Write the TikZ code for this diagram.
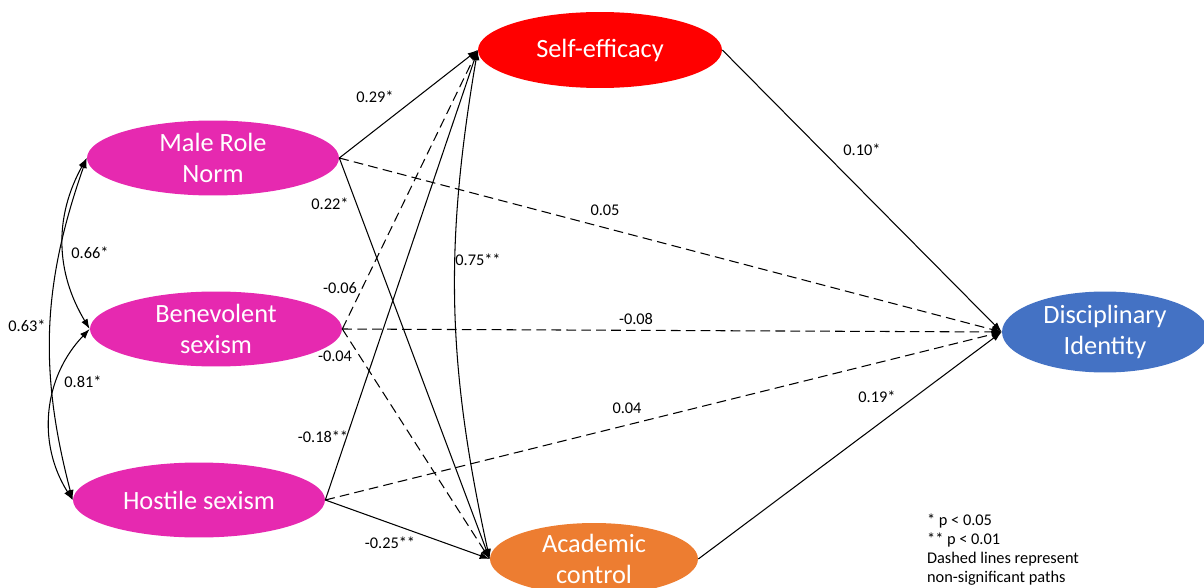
\documentclass[tikz,border=0pt]{standalone}
\usepackage{fontspec}
\setmainfont{Carlito}
\usepackage{tikz}
\usetikzlibrary{arrows.meta, shapes.geometric}
\definecolor{sexism}{HTML}{E629B0}
\definecolor{efficacy}{HTML}{FF0000}
\definecolor{control}{HTML}{ED7D31}
\definecolor{identity}{HTML}{4472C4}

\begin{document}
\begin{tikzpicture}[
    x=0.02cm, y=-0.02cm,
    latent/.style={ellipse, inner sep=0pt, align=center, text=white, font=\fontsize{15}{17.8}\selectfont},
    sigpath/.style={-{Latex[length=2mm, width=1.4mm]}, line width=0.6pt},
    nspath/.style={sigpath, dash pattern=on 5.5pt off 3pt},
    cov/.style={{Latex[length=2mm, width=1.4mm]}-{Latex[length=2mm, width=1.4mm]}, line width=0.6pt},
    coef/.style={font=\fontsize{9.3}{10.8}\selectfont, inner sep=1pt}
]
\useasboundingbox (0,0) rectangle (1204,588);

% latent variables
\node[latent, fill=sexism, minimum width=5.04cm, minimum height=1.5cm] (mrn) at (213,158) {Male Role\\Norm};
\node[latent, fill=sexism, minimum width=5.04cm, minimum height=1.5cm] (bs) at (216,329) {Benevolent\\sexism};
\node[latent, fill=sexism, minimum width=5.04cm, minimum height=1.5cm] (hs) at (199,500) {Hostile sexism};
\node[latent, fill=efficacy, minimum width=4.88cm, minimum height=1.52cm] (se) at (600,50) {Self-efficacy};
\node[latent, fill=control, minimum width=4.16cm, minimum height=1.44cm] (ac) at (594,559) {Academic\\control};
\node[latent, fill=identity, minimum width=4.12cm, minimum height=1.62cm] (di) at (1105,332) {Disciplinary\\Identity};

% direct paths
\draw[sigpath] (mrn.east) -- (se.west);
\draw[nspath] (mrn.east) -- (di.west);
\draw[sigpath] (mrn.east) -- (ac.west);
\draw[nspath] (bs.east) -- (se.west);
\draw[nspath] (bs.east) -- (di.west);
\draw[nspath] (bs.east) -- (ac.west);
\draw[sigpath] (hs.east) -- (se.west);
\draw[nspath] (hs.east) -- (di.west);
\draw[sigpath] (hs.east) -- (ac.west);
\draw[sigpath] (se.east) -- (di.west);
\draw[sigpath] (ac.east) -- (di.west);

% covariances
\draw[cov] (mrn.west) to[bend right=30] (bs.west);
\draw[cov] (bs.west) to[bend right=38] (hs.west);
\draw[cov] (mrn.west) to[bend right=17] (hs.west);
\draw[cov] (se.west) to[bend right=11] (ac.west);

% coefficients
\node[coef] (c29) at (375,97) {0.29*};
\node[coef] (c22) at (330,204) {0.22*};
\node[coef] (c05) at (605,210) {0.05};
\node[coef] (c06) at (340,288) {-0.06};
\node[coef] (c08) at (636,319) {-0.08};
\node[coef] (c04n) at (335,356) {-0.04};
\node[coef] (c18) at (323,437) {-0.18**};
\node[coef] (c04) at (627,408) {0.04};
\node[coef] (c25) at (390,543) {-0.25**};
\node[coef] (c75) at (478,260) {0.75**};
\node[coef] (c10) at (862,150) {0.10*};
\node[coef] (c19) at (877,397) {0.19*};
\node[coef] (c66) at (90,253) {0.66*};
\node[coef] (c63) at (27,326) {0.63*};
\node[coef] (c81) at (83,382) {0.81*};

% note
\node[coef, align=left, anchor=north west] (note) at (925,512) {* p < 0.05\\** p < 0.01\\Dashed lines represent\\non-significant paths};
\end{tikzpicture}
\end{document}
